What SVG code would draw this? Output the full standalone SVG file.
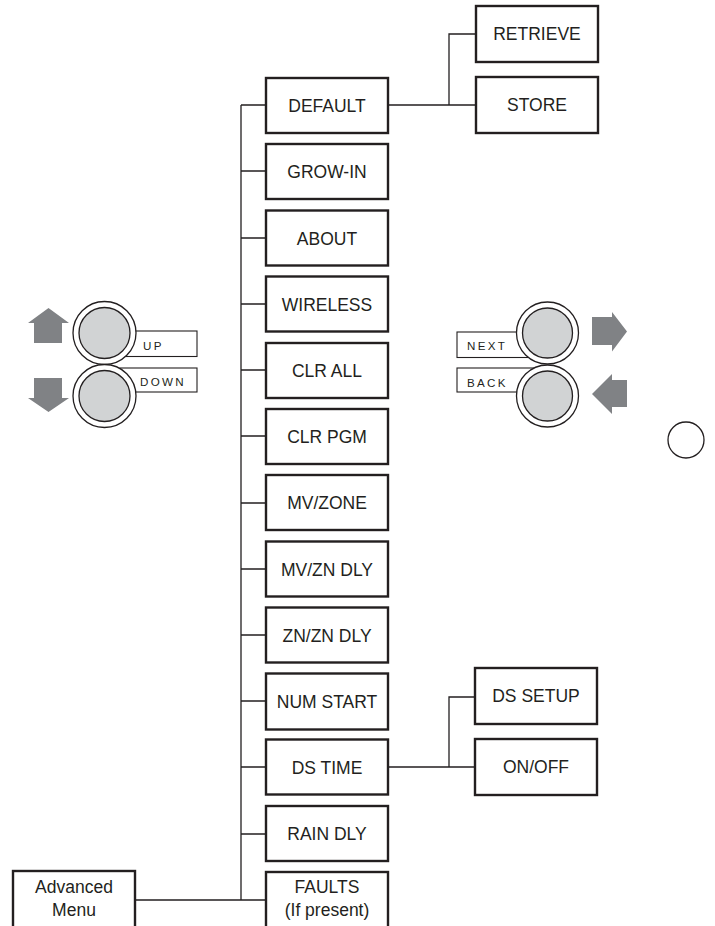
<svg xmlns="http://www.w3.org/2000/svg" width="715" height="926" viewBox="0 0 715 926">
<style>
.box{fill:#fff;stroke:#231f20;stroke-width:2.4}
.t{font-family:"Liberation Sans",Arial,sans-serif;font-size:17.5px;fill:#231f20;text-anchor:middle}
.s{font-family:"Liberation Sans",Arial,sans-serif;font-size:11.6px;fill:#231f20;letter-spacing:2.3px}
.ln{fill:none;stroke:#231f20;stroke-width:1.3}
.lb{fill:#fff;stroke:#231f20;stroke-width:1.1}
.oc{fill:#fff;stroke:#231f20;stroke-width:1.3}
.ic{fill:#d1d3d4;stroke:#231f20;stroke-width:1.3}
.ar{fill:#808285}
</style>
<g id="connectors">
<path class="ln" d="M241 105V900M241 105H266M241 171H266M241 238H266M241 304H266M241 370H266M241 436H266M241 503H266M241 569H266M241 635H266M241 701H266M241 767H266M241 834H266M135 900H266"/>
<path class="ln" d="M388 105H476M449 105V34H476"/>
<path class="ln" d="M388 767H476M449 767V697H476"/>
</g>
<g id="default"><rect class="box" x="266" y="78" width="122" height="55"/><text class="t" x="327" y="112">DEFAULT</text></g>
<g id="growin"><rect class="box" x="266" y="144" width="122" height="55"/><text class="t" x="327" y="178">GROW-IN</text></g>
<g id="about"><rect class="box" x="266" y="210.5" width="122" height="55"/><text class="t" x="327" y="244.5">ABOUT</text></g>
<g id="wireless"><rect class="box" x="266" y="276.5" width="122" height="55"/><text class="t" x="327" y="310.5">WIRELESS</text></g>
<g id="clrall"><rect class="box" x="266" y="343" width="122" height="55"/><text class="t" x="327" y="377">CLR ALL</text></g>
<g id="clrpgm"><rect class="box" x="266" y="409" width="122" height="55"/><text class="t" x="327" y="443">CLR PGM</text></g>
<g id="mvzone"><rect class="box" x="266" y="475" width="122" height="55"/><text class="t" x="327" y="509">MV/ZONE</text></g>
<g id="mvzndly"><rect class="box" x="266" y="541.5" width="122" height="55"/><text class="t" x="327" y="575.5">MV/ZN DLY</text></g>
<g id="znzndly"><rect class="box" x="266" y="607.5" width="122" height="55"/><text class="t" x="327" y="641.5">ZN/ZN DLY</text></g>
<g id="numstart"><rect class="box" x="266" y="673.5" width="122" height="56"/><text class="t" x="327" y="708">NUM START</text></g>
<g id="dstime"><rect class="box" x="266" y="739.5" width="122" height="55"/><text class="t" x="327" y="774">DS TIME</text></g>
<g id="raindly"><rect class="box" x="266" y="806" width="122" height="55"/><text class="t" x="327" y="840">RAIN DLY</text></g>
<g id="faults"><rect class="box" x="266" y="872" width="122" height="60"/><text class="t" x="327" y="893">FAULTS</text><text class="t" x="327" y="916">(If present)</text></g>
<g id="advanced"><rect class="box" x="13" y="871" width="122" height="60"/><text class="t" x="74" y="893">Advanced</text><text class="t" x="74" y="916">Menu</text></g>
<g id="retrieve"><rect class="box" x="476" y="6" width="122" height="56"/><text class="t" x="537" y="40">RETRIEVE</text></g>
<g id="store"><rect class="box" x="476" y="77" width="122" height="56"/><text class="t" x="537" y="111">STORE</text></g>
<g id="dssetup"><rect class="box" x="475" y="668" width="122" height="56"/><text class="t" x="536" y="702">DS SETUP</text></g>
<g id="onoff"><rect class="box" x="475" y="739" width="122" height="56"/><text class="t" x="536" y="773">ON/OFF</text></g>
<g id="up">
<path class="ar" d="M48.5 308L69 323H62V343H34V323H28Z"/>
<rect class="lb" x="120" y="331" width="77" height="25.5"/>
<circle class="oc" cx="104.5" cy="333" r="31.5"/><circle class="ic" cx="104.5" cy="333" r="25.5"/>
<text class="s" x="143" y="350">UP</text>
</g>
<g id="down">
<path class="ar" d="M34 378H62V398H69L48.5 412L28 398H34Z"/>
<rect class="lb" x="120" y="368" width="77" height="24"/>
<circle class="oc" cx="104.5" cy="396" r="31.5"/><circle class="ic" cx="104.5" cy="396" r="25.5"/>
<text class="s" x="140" y="386">DOWN</text>
</g>
<g id="next">
<path class="ar" d="M592 317H612V312L627 331.5L612 351.5V345H592Z"/>
<rect class="lb" x="457" y="332" width="80" height="25.5"/>
<circle class="oc" cx="547.5" cy="333" r="31"/><circle class="ic" cx="547.5" cy="333" r="25"/>
<text class="s" x="467" y="350">NEXT</text>
</g>
<g id="back">
<path class="ar" d="M627 380H612V374L592 394L612 414V407H627Z"/>
<rect class="lb" x="457" y="368" width="80" height="24"/>
<circle class="oc" cx="547.5" cy="396" r="31"/><circle class="ic" cx="547.5" cy="396" r="25"/>
<text class="s" x="467" y="386.5">BACK</text>
</g>
<g id="circle"><circle class="oc" cx="686" cy="440" r="18"/></g>
</svg>
